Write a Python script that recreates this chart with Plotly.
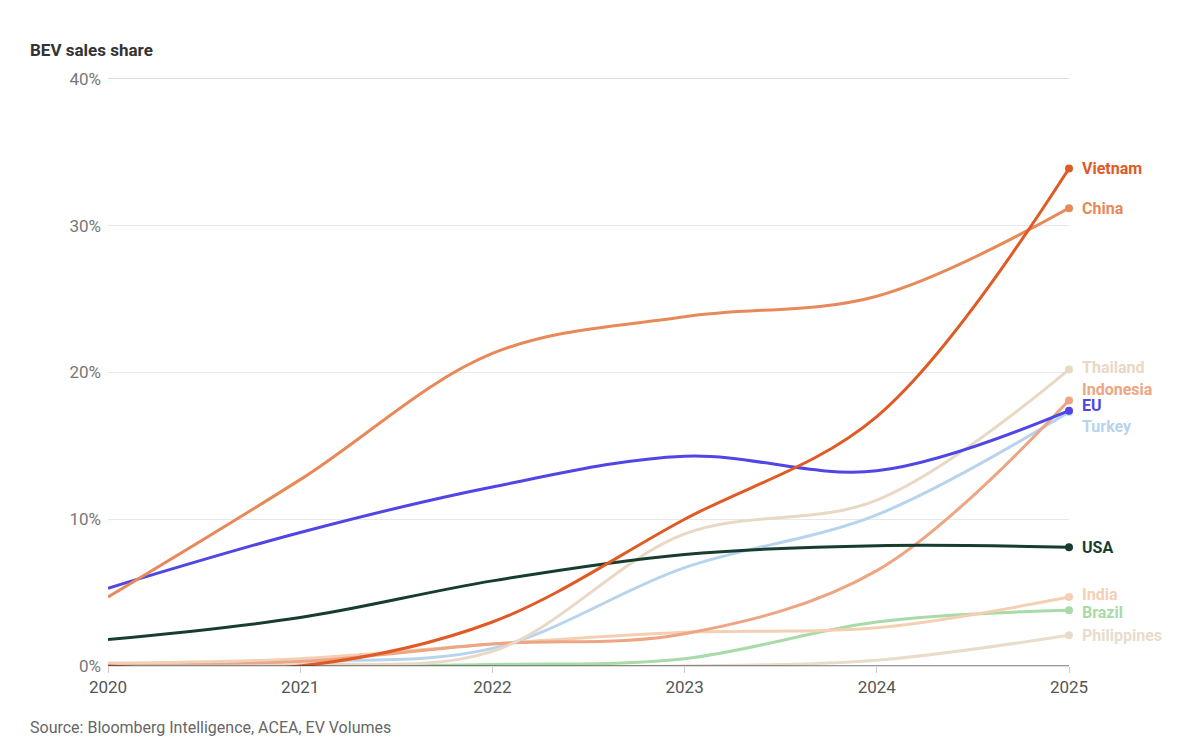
import plotly.graph_objects as go

years = [2020, 2021, 2022, 2023, 2024, 2025]
series = {
    "Vietnam":     [0.0, 0.0, 3.0, 10.0, 17.0, 33.9],
    "China":       [4.7, 12.7, 21.3, 23.8, 25.2, 31.2],
    "EU":          [5.3, 9.1, 12.2, 14.3, 13.3, 17.4],
    "USA":         [1.8, 3.3, 5.8, 7.6, 8.2, 8.1],
    "Thailand":    [0.0, 0.1, 1.0, 9.0, 11.3, 20.2],
    "Indonesia":   [0.0, 0.3, 1.5, 2.2, 6.5, 18.1],
    "Turkey":      [0.0, 0.3, 1.2, 6.7, 10.3, 17.3],
    "India":       [0.2, 0.5, 1.5, 2.3, 2.6, 4.7],
    "Brazil":      [0.0, 0.0, 0.1, 0.5, 3.0, 3.8],
    "Philippines": [0.0, 0.0, 0.0, 0.0, 0.4, 2.1],
}
colors = {
    "Vietnam": "#e05a24", "China": "#e8895a", "EU": "#4f46e5", "USA": "#173d2f",
    "Thailand": "#e8d8c4", "Indonesia": "#eda583", "Turkey": "#b8d4ec",
    "India": "#f5cfb3", "Brazil": "#a8dba8", "Philippines": "#e8dccb",
}
label_shift = {"Thailand": 2, "Indonesia": 11, "EU": 5, "Turkey": -14,
               "India": 3, "Brazil": -2, "Philippines": 0}
draw_order = ["Philippines", "Brazil", "India", "Turkey", "Indonesia", "Thailand",
              "USA", "EU", "China", "Vietnam"]

fig = go.Figure()
for name in draw_order:
    v = series[name]
    fig.add_trace(go.Scatter(x=years, y=v, mode="lines", line=dict(color=colors[name], width=3, shape="spline", smoothing=1.0),
                             showlegend=False, hoverinfo="skip"))
    fig.add_trace(go.Scatter(x=[years[-1]], y=[v[-1]], mode="markers", marker=dict(color=colors[name], size=8),
                             showlegend=False, hoverinfo="skip", cliponaxis=False))
    fig.add_annotation(x=years[-1], y=v[-1], text=f"<b>{name}</b>", xanchor="left", xshift=11,
                       yshift=label_shift.get(name, 0), showarrow=False,
                       font=dict(color=colors[name], size=16, family="Roboto"))

fig.update_layout(
    width=1200, height=755, plot_bgcolor="white", paper_bgcolor="white",
    margin=dict(l=100, r=139, t=71, b=97),
    font=dict(family="Roboto", color="#666"),
    xaxis=dict(range=[2020, 2025], tickvals=years, ticktext=[str(y) for y in years],
               showgrid=False, showline=True, linecolor="#ddd", mirror=True, zeroline=False,
               tickfont=dict(size=17, color="#555"), ticks="outside", ticklen=6, tickcolor="#ccc"),
    yaxis=dict(range=[0, 40], tickvals=[0, 10, 20, 30, 40], ticktext=["0%", "10%", "20%", "30%", "40%"],
               showgrid=True, gridcolor="#e8e8e8", zeroline=False, showline=False,
               tickfont=dict(size=17, color="#777"), ticks="", ticklabelstandoff=6),
)
fig.add_shape(type="line", xref="paper", yref="y", x0=0, x1=1, y0=0, y1=0, line=dict(color="#333", width=1))
fig.add_annotation(xref="paper", yref="paper", x=-0.083, y=1.07, text="<b>BEV sales share</b>", showarrow=False,
                   xanchor="left", font=dict(size=17, color="#333"))
fig.add_annotation(xref="paper", yref="paper", x=-0.083, y=-0.085, text="Source: Bloomberg Intelligence, ACEA, EV Volumes",
                   showarrow=False, xanchor="left", yanchor="top", font=dict(size=16, color="#666"))
fig.write_html("out.html")
